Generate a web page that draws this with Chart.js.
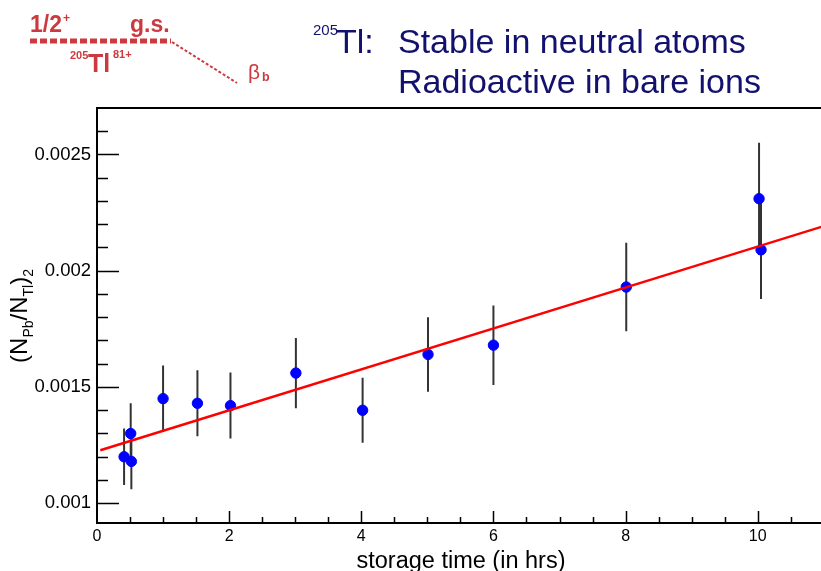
<!DOCTYPE html>
<html>
<head>
<meta charset="utf-8">
<script src="https://cdn.jsdelivr.net/npm/chart.js@4.4.0/dist/chart.umd.min.js"></script>
<style>
  html, body { margin: 0; padding: 0; background: #fff; overflow: hidden; }
  #wrap { position: relative; width: 821px; height: 571px; overflow: hidden; }
  #chart { position: absolute; left: 0; top: 0; }
  .t { position: absolute; font-family: "Liberation Sans", Arial, Helvetica, sans-serif; white-space: nowrap; line-height: 1; }
  .red { color: #cc3a3f; font-weight: bold; }
  .navy { color: #12126e; }
  svg { position: absolute; left: 0; top: 0; }
</style>
</head>
<body>
<div id="wrap">
  <canvas id="chart" width="830" height="571"></canvas>

  <!-- decay scheme fragment, top left -->
  <svg width="300" height="100">
    <line x1="30" y1="41" x2="171" y2="41" stroke="#cc3a3f" stroke-width="5" stroke-dasharray="7 3"></line>
    <line x1="172" y1="42" x2="237" y2="83" stroke="#cc3a3f" stroke-width="2" stroke-dasharray="3 2"></line>
  </svg>
  <span class="t red" style="left:30px; top:12.5px; font-size:23px;">1/2</span>
  <span class="t red" style="left:63px; top:11.8px; font-size:12px;">+</span>
  <span class="t red" style="left:130px; top:12.5px; font-size:23px;">g.s.</span>
  <span class="t red" style="left:70px; top:49.7px; font-size:11px;">205</span>
  <span class="t red" style="left:88px; top:50.8px; font-size:25px;">Tl</span>
  <span class="t red" style="left:113px; top:48.7px; font-size:11px;">81+</span>
  <span class="t" style="left:248px; top:61px; font-size:21px; color:#cc3a3f;">β</span>
  <span class="t red" style="left:262px; top:71.1px; font-size:12.5px;">b</span>

  <!-- title -->
  <span class="t navy" style="left:313px; top:22px; font-size:15px;">205</span>
  <span class="t navy" style="left:336px; top:23.5px; font-size:34px;">Tl:</span>
  <span class="t navy" style="left:398px; top:23.5px; font-size:34px;">Stable in neutral atoms</span>
  <span class="t navy" style="left:398px; top:63.5px; font-size:34px;">Radioactive in bare ions</span>
</div>

<script>
// measured points (storage time in hrs, ratio, error)
var timeHrs  = [0.41, 0.51, 0.52, 1.0, 1.52, 2.02, 3.01, 4.02, 5.01, 6.0, 8.01, 10.02, 10.05];
var ratio    = [0.00120, 0.00130, 0.00118, 0.00145, 0.00143, 0.00142, 0.00156, 0.00140, 0.00164, 0.00168, 0.00193, 0.00231, 0.00209];
var ratioErr = [0.000122, 0.00013, 0.00012, 0.000142, 0.000142, 0.000142, 0.000151, 0.00014, 0.00016, 0.000171, 0.00019, 0.000241, 0.000211];

// linear fit line end points
var fitTime  = [0.05, 11];
var fitRatio = [0.001228, 0.002192];

// labelled ticks
var xTickLabels = [0, 2, 4, 6, 8, 10];
var yTickLabels = [0.001, 0.0015, 0.002, 0.0025];

var FONT = '"Liberation Sans", Arial, Helvetica, sans-serif';

document.addEventListener('DOMContentLoaded', function () {
  var pts = timeHrs.map(function (t, i) { return { x: t, y: ratio[i] }; });
  var fitPts = fitTime.map(function (t, i) { return { x: t, y: fitRatio[i] }; });

  // error bars as gapped line segments
  var errPts = [];
  timeHrs.forEach(function (t, i) {
    errPts.push({ x: t, y: ratio[i] - ratioErr[i] });
    errPts.push({ x: t, y: ratio[i] + ratioErr[i] });
    errPts.push({ x: t, y: null });
  });

  // ROOT-like frame with inward ticks, plus axis titles
  var frameTicks = {
    id: 'frameTicks',
    afterDraw: function (chart) {
      var ctx = chart.ctx, a = chart.chartArea;
      var xs = chart.scales.x, ys = chart.scales.y;
      ctx.save();
      ctx.strokeStyle = '#000';
      ctx.lineWidth = 2;
      ctx.beginPath();
      ctx.moveTo(a.right + 5, a.top);
      ctx.lineTo(a.left, a.top);
      ctx.lineTo(a.left, a.bottom);
      ctx.lineTo(a.right + 5, a.bottom);
      ctx.stroke();

      ctx.lineWidth = 1.5;
      ctx.beginPath();
      // y ticks every 0.0001, long ones at labels
      for (var k = 10; k <= 26; k++) {
        var v = k / 10000;
        var py = Math.round(ys.getPixelForValue(v)) + 0.5;
        var len = (k % 5 === 0) ? 22 : 11;
        ctx.moveTo(a.left, py);
        ctx.lineTo(a.left + len, py);
      }
      // x ticks every 0.5, long ones at labels
      for (var j = 1; j <= 21; j++) {
        var xv = j * 0.5;
        var px = Math.round(xs.getPixelForValue(xv)) + 0.5;
        var xl = (j % 4 === 0) ? 12 : 6;
        ctx.moveTo(px, a.bottom);
        ctx.lineTo(px, a.bottom - xl);
      }
      ctx.stroke();

      // x title
      ctx.fillStyle = '#000';
      ctx.textBaseline = 'alphabetic';
      ctx.textAlign = 'center';
      ctx.font = '23.5px ' + FONT;
      ctx.fillText('storage time (in hrs)', 461, 568);

      // y title (N_Pb/N_Tl)_2, rotated
      var big = '24px ' + FONT, small = '14px ' + FONT;
      var parts = [
        { s: '(', f: big, d: 0 },
        { s: 'N', f: big, d: 0 },
        { s: 'Pb', f: small, d: 6 },
        { s: '/', f: big, d: 0 },
        { s: 'N', f: big, d: 0 },
        { s: 'Tl', f: small, d: 6 },
        { s: ')', f: big, d: 0 },
        { s: '2', f: small, d: 6 }
      ];
      var total = 0;
      parts.forEach(function (p) { ctx.font = p.f; p.w = ctx.measureText(p.s).width; total += p.w; });
      ctx.translate(27, 316);
      ctx.rotate(-Math.PI / 2);
      ctx.textAlign = 'left';
      var cx = -total / 2;
      parts.forEach(function (p) {
        ctx.font = p.f;
        ctx.fillText(p.s, cx, p.d);
        cx += p.w;
      });
      ctx.restore();
    }
  };

  var ctx = document.getElementById('chart').getContext('2d');
  new Chart(ctx, {
    type: 'scatter',
    data: {
      datasets: [
        {
          type: 'line',
          label: 'fit',
          data: fitPts,
          borderColor: '#ff0000',
          borderWidth: 2.5,
          pointRadius: 0,
          fill: false,
          order: 0
        },
        {
          label: 'data',
          data: pts,
          backgroundColor: '#0000ff',
          borderColor: '#0000ff',
          pointRadius: 5.2,
          order: 1
        },
        {
          type: 'line',
          label: 'errors',
          data: errPts,
          borderColor: '#333333',
          borderWidth: 2,
          pointRadius: 0,
          spanGaps: false,
          fill: false,
          order: 2
        }
      ]
    },
    options: {
      responsive: false,
      animation: false,
      layout: { padding: { top: 108, right: 6, left: 0, bottom: 0 } },
      plugins: {
        legend: { display: false },
        tooltip: { enabled: false }
      },
      scales: {
        x: {
          type: 'linear',
          min: 0,
          max: 11,
          afterFit: function (s) { s.height = 48; },
          afterBuildTicks: function (s) { s.ticks = xTickLabels.map(function (v) { return { value: v }; }); },
          grid: { display: false, drawTicks: false },
          border: { display: false },
          ticks: {
            color: '#000',
            padding: 4,
            maxRotation: 0,
            font: { size: 16, family: FONT },
            callback: function (v) { return String(v); }
          }
        },
        y: {
          type: 'linear',
          min: 0.000915,
          max: 0.0027,
          afterFit: function (s) { s.width = 97; },
          afterBuildTicks: function (s) { s.ticks = yTickLabels.map(function (v) { return { value: v }; }); },
          grid: { display: false, drawTicks: false },
          border: { display: false },
          ticks: {
            color: '#000',
            padding: 6,
            font: { size: 18.5, family: FONT },
            callback: function (v) { return String(v); }
          }
        }
      }
    },
    plugins: [frameTicks]
  });
});
</script>
</body>
</html>
